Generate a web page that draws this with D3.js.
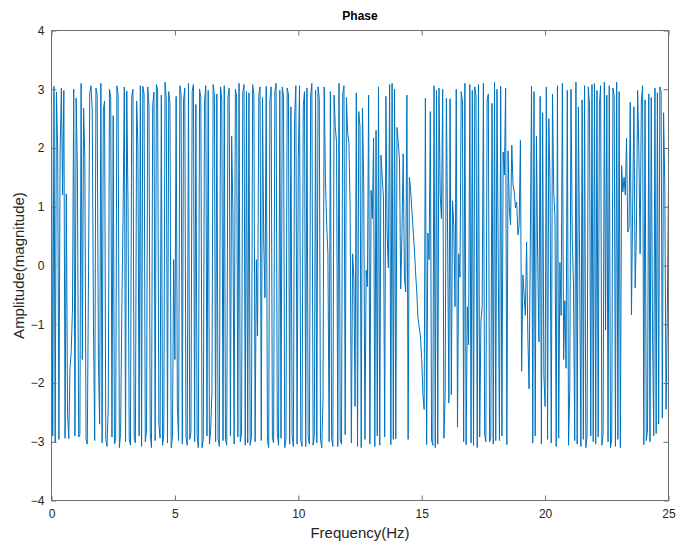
<!DOCTYPE html>
<html>
<head>
<meta charset="utf-8">
<script src="https://cdn.jsdelivr.net/npm/d3@7"></script>
<style>
  body { margin: 0; background: #fff; }
  svg text { font-family: "Liberation Sans", Arial, Helvetica, sans-serif; }
</style>
</head>
<body>
<svg id="chart" width="676" height="542"></svg>
<script>
// Spectrum phase, one sample every 0.05 Hz from 0 to 25 Hz (radians); 20 samples per row
const freqStep = 0.05;
const phase = [
   3.08, -2.90,  3.05, -3.02,  2.95,  2.02, -2.96,  1.95,  3.02,  1.20,  2.98, -2.94,  1.22, -2.50, -2.95, -1.74, -1.46, -0.74,  3.00, -2.90,
   2.85,  1.60, -2.92, -2.88,  3.10, -1.60,  2.68,  1.84, -2.96, -3.04, -0.10,  2.94,  3.06,  2.65, -1.00, -2.98,  3.02,  2.90, -1.60, -2.70,
   3.10, -3.02,  2.65,  2.80, -2.96, -3.08, -2.40,  3.00,  2.86, -2.92,  2.55, -3.04, -2.98,  3.06,  2.90, -3.10, -2.86, -0.75,  0.86,  3.04,
  -3.00,  2.97,  1.06, -2.96, -3.06,  2.88,  3.00, -2.94, -3.02,  2.80,  2.08, -2.90,  3.06, -3.08,  3.05,  2.92, -3.00, -2.82,  3.04,  2.70,
  -2.85, -3.10,  2.72,  2.95, -2.98,  3.08,  3.00, -2.70, -2.94,  2.90, -3.06, -2.88,  3.12,  2.84, -3.02,  2.96,  2.76, -3.10, -2.92,  0.10,
  -1.60,  2.88, -2.40, -2.98,  3.06,  2.92, -3.04,  2.80,  3.02, -2.92, -3.06,  3.10, -2.96, -2.84,  2.96,  3.08, -3.00,  2.74, -2.90, -3.10,
   3.00,  2.86, -3.10, -2.96,  2.78,  3.06, -2.90,  2.98, -3.04, -2.80, -2.15,  3.08,  2.90, -3.00,  2.92, -2.94, -3.08,  3.04,  2.82, -2.98,
   3.06, -2.96, -3.06,  2.86,  3.02, -2.90,  2.20,  0.90, -3.04,  3.00,  2.88, -2.92,  3.10, -3.00, -2.86,  2.94,  3.08, -3.06,  2.96, -3.02,
   2.94, -3.06, -2.92,  3.08,  2.90, -3.00,  0.10, -1.20,  2.90,  3.04, -2.98,  2.86,  0.40, -0.55,  3.05, -2.98, -3.10,  2.80,  3.04, -2.94,
  -3.02,  2.96,  3.10, -2.86, -3.06,  2.98, -2.94,  3.04,  2.88, -3.10, -2.96,  3.02,  2.92, -3.04,  2.70, -2.90, -3.08,  2.50,  3.06, -3.04,
   1.82,  3.06, -2.98, -3.08,  2.70,  2.96, -3.08,  3.02, -2.92, -3.04,  2.88,  3.10, -3.06, -2.90,  2.98, -3.02,  3.04,  2.84, -2.96, -3.10,
  -2.30,  3.04,  1.45,  0.70,  0.20, -3.00,  2.96, -2.94, -3.08,  2.90,  2.35,  2.10, -3.08,  3.10, -2.96, -3.04,  2.92,  3.06, -2.88,  2.86,
   2.25,  2.10,  0.98, -3.02,  0.20, -0.20, -2.40,  2.94, -3.08,  2.62,  2.36, -3.10,  2.68,  1.45, -2.96, -0.08, -0.36,  2.90, -3.04,  1.28,
   0.80,  2.17, -3.08,  2.30, -2.90,  3.04, -3.06,  1.88,  1.50,  1.15, -2.92,  2.88,  0.52, -0.04,  3.08, -3.05,  3.10, -2.96,  3.00, -2.95,
   2.35,  2.10,  1.80, -0.40,  0.55,  1.90, -0.20, -0.45,  2.90, -2.96,  1.50,  1.30,  0.95,  0.62,  0.30, -0.10, -0.45, -0.90, -1.05, -1.20,
  -1.60, -2.20, -2.45,  2.85, -3.05,  0.55,  0.10,  2.62, -2.97, -3.06,  3.06, -3.10,  2.98, -3.04,  3.02,  1.20,  0.80,  3.00, -2.94, -2.18,
   2.85,  0.50, -2.34,  2.84, -2.20,  1.10,  0.70, -0.70,  3.00, -2.75,  0.20, -0.20,  2.96,  2.80, -3.00,  3.10, -3.05, -0.70, -1.35,  3.08,
  -3.02,  2.98, -3.06,  3.04,  2.88, -3.10,  3.08, -2.92, -0.95, -0.70,  3.10, -2.88, -3.00,  2.80,  2.92, -3.00, -2.94,  2.76, -3.04,  3.12,
  -2.98,  3.00,  0.23, -2.98,  3.05, -2.90,  1.93,  1.54,  3.02, -3.05,  1.95,  0.98,  0.69,  2.05,  1.37,  1.25,  0.98,  1.08,  0.52,  0.70,
   2.13, -1.80, -0.16, -0.50, -0.85,  0.40, -1.18, -2.10,  0.35,  3.05, -3.02,  2.96, -2.90,  2.20,  0.12, -1.30,  2.88, -3.04,  2.60, -1.86,
  -2.40,  3.04, -2.96,  2.50,  1.40, -3.02,  2.92,  1.25,  0.80, -3.08,  3.06, -2.94,  0.05, -0.85,  3.10, -1.60, -0.60, -1.75,  2.98, -3.06,
  -2.10,  3.00,  0.47, -0.33, -2.98,  3.12, -3.04,  2.70,  0.00, -3.08,  2.82, -2.96,  3.06, -3.10, -2.92,  3.04,  2.74, -2.90,  3.08, -3.00,
   3.10, -3.04,  2.98, -2.92,  2.72,  3.06, -3.06, -2.88,  3.12, -1.10,  2.90, -3.00,  3.06, -3.10, -2.94,  3.02,  2.88, -3.08,  3.12, -2.96,
   2.96, -3.10,  1.70,  1.25,  1.50,  1.20,  2.17,  0.57,  0.65,  2.78, -0.84,  1.10,  2.70, -0.38,  0.60,  2.98,  1.90,  0.20,  2.80,  3.06,
  -3.05,  2.82, -2.98, -2.80,  2.92, -3.00,  2.86, -0.98, -2.90,  3.02, -2.86,  2.94, -2.70,  3.04,  2.96, -2.60,  2.60,  1.37, -2.45, -0.90,
   1.38
];
const xTicks = [0, 5, 10, 15, 20, 25];
const yTicks = [-4, -3, -2, -1, 0, 1, 2, 3, 4];
const titleText = "Phase";
const xLabelText = "Frequency(Hz)";
const yLabelText = "Amplitude(magnitude)";

const W = 676, H = 542;
const plot = { left: 51.5, right: 668.5, top: 30.5, bottom: 500.5 };
const axisColor = "#6f6f6f";
const textColor = "#262626";
const lineColor = "#0072BD";

const svg = d3.select("#chart");
svg.append("rect").attr("width", W).attr("height", H).attr("fill", "#fff");

const x = d3.scaleLinear().domain([0, 25]).range([plot.left, plot.right]);
const y = d3.scaleLinear().domain([-4, 4]).range([plot.bottom, plot.top]);

svg.append("defs").append("clipPath").attr("id", "plotClip")
  .append("rect")
  .attr("x", plot.left).attr("y", plot.top)
  .attr("width", plot.right - plot.left).attr("height", plot.bottom - plot.top);

// phase trace
const line = d3.line()
  .x((d, i) => x(i * freqStep))
  .y(d => y(d));

svg.append("path")
  .datum(phase)
  .attr("clip-path", "url(#plotClip)")
  .attr("fill", "none")
  .attr("stroke", lineColor)
  .attr("stroke-width", 1)
  .attr("stroke-linejoin", "round")
  .attr("d", line);

// axes with inward ticks on all four sides
const tickLen = 5;
function styleAxis(g, showText) {
  g.select(".domain").remove();
  g.selectAll(".tick line").attr("stroke", axisColor);
  g.selectAll(".tick text")
    .attr("fill", textColor)
    .style("font-size", "12px");
  if (!showText) g.selectAll(".tick text").remove();
}

svg.append("g")
  .attr("transform", `translate(0,${plot.bottom})`)
  .call(d3.axisBottom(x).tickValues(xTicks).tickSizeInner(-tickLen).tickSizeOuter(0).tickPadding(9).tickFormat(d3.format("d")))
  .call(g => styleAxis(g, true));

svg.append("g")
  .attr("transform", `translate(0,${plot.top})`)
  .call(d3.axisTop(x).tickValues(xTicks).tickSizeInner(-tickLen).tickSizeOuter(0))
  .call(g => styleAxis(g, false));

svg.append("g")
  .attr("transform", `translate(${plot.left},0)`)
  .call(d3.axisLeft(y).tickValues(yTicks).tickSizeInner(-tickLen).tickSizeOuter(0).tickPadding(7).tickFormat(d3.format("d")))
  .call(g => styleAxis(g, true));

svg.append("g")
  .attr("transform", `translate(${plot.right},0)`)
  .call(d3.axisRight(y).tickValues(yTicks).tickSizeInner(-tickLen).tickSizeOuter(0))
  .call(g => styleAxis(g, false));

// axes box
svg.append("rect")
  .attr("x", plot.left).attr("y", plot.top)
  .attr("width", plot.right - plot.left).attr("height", plot.bottom - plot.top)
  .attr("fill", "none")
  .attr("stroke", axisColor)
  .attr("stroke-width", 1);

// title and axis labels
svg.append("text")
  .attr("x", (plot.left + plot.right) / 2).attr("y", 20)
  .attr("text-anchor", "middle")
  .attr("fill", "#000")
  .style("font-size", "12px").style("font-weight", "bold")
  .text(titleText);

svg.append("text")
  .attr("x", (plot.left + plot.right) / 2).attr("y", 538)
  .attr("text-anchor", "middle")
  .attr("fill", textColor)
  .style("font-size", "15px")
  .text(xLabelText);

svg.append("text")
  .attr("transform", `translate(24,${(plot.top + plot.bottom) / 2}) rotate(-90)`)
  .attr("text-anchor", "middle")
  .attr("fill", textColor)
  .style("font-size", "15px")
  .text(yLabelText);
</script>
</body>
</html>
